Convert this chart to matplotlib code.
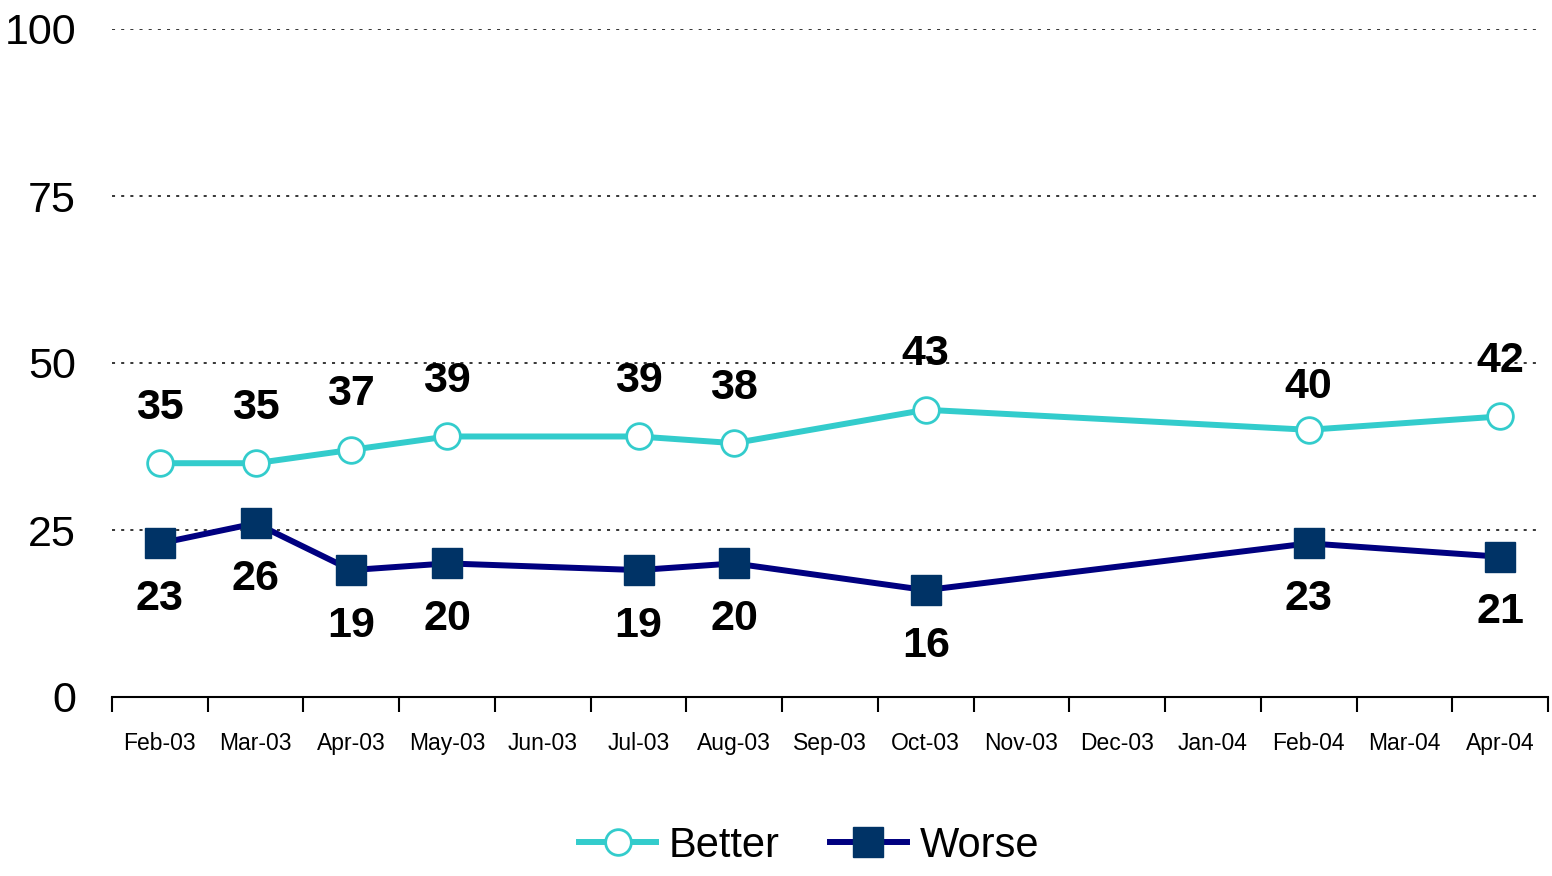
import numpy as np
import matplotlib.pyplot as plt

# --------------------------------------------
# Data
# --------------------------------------------
months = ["Feb-03", "Mar-03", "Apr-03", "May-03", "Jun-03", "Jul-03", "Aug-03",
          "Sep-03", "Oct-03", "Nov-03", "Dec-03", "Jan-04", "Feb-04", "Mar-04", "Apr-04"]
survey_months = ["Feb-03", "Mar-03", "Apr-03", "May-03", "Jul-03", "Aug-03",
                 "Oct-03", "Feb-04", "Apr-04"]
better = [35, 35, 37, 39, 39, 38, 43, 40, 42]
worse = [23, 26, 19, 20, 19, 20, 16, 23, 21]

BETTER_C = "#33CCCC"
WORSE_LINE = "#000080"
WORSE_FILL = "#003366"

plt.rcParams["font.family"] = ["Liberation Sans", "DejaVu Sans"]

fig = plt.figure(figsize=(15.52, 8.76), dpi=100)
ax = fig.add_axes([112 / 1552, 1 - 697 / 876, 1436 / 1552, (697 - 29) / 876])

x = [months.index(m) for m in survey_months]

ax.plot(x, better, color=BETTER_C, lw=4.3, marker="o", ms=18.5,
        mfc="white", mec=BETTER_C, mew=2, label="Better", zorder=3)
ax.plot(x, worse, color=WORSE_LINE, lw=4.3, marker="s", ms=21,
        mfc=WORSE_FILL, mec=WORSE_FILL, label="Worse", zorder=3)

# label offsets (points); Feb-04 "Better" label sits a bit lower
for xi, m, b, w in zip(x, survey_months, better, worse):
    up = 31 if m == "Feb-04" else 40
    ax.annotate(str(b), (xi, b), xytext=(0, up), textcoords="offset points",
                ha="center", va="center", fontsize=31, fontweight="bold")
    ax.annotate(str(w), (xi, w), xytext=(0, -40), textcoords="offset points",
                ha="center", va="center", fontsize=31, fontweight="bold")

# gridlines
for g in [25, 50, 75, 100]:
    ax.plot([-0.5, 14.42], [g, g], color="black", lw=1.1, ls=(0, (2, 4)), zorder=1)

ax.set_xlim(-0.5, 14.5)
ax.set_ylim(0, 100)
ax.set_yticks([0, 25, 50, 75, 100])
ax.tick_params(axis="y", length=0, labelsize=31, pad=26)
ax.set_xticks(range(len(months)))
ax.set_xticklabels(months, fontsize=16.5)
ax.set_xticks(np.arange(-0.5, 15, 1), minor=True)
ax.tick_params(axis="x", which="major", length=0, pad=25)
ax.tick_params(axis="x", which="minor", length=11, width=1.5, direction="out")

for s in ["top", "right", "left"]:
    ax.spines[s].set_visible(False)
ax.spines["bottom"].set_linewidth(1.5)

leg = fig.legend(loc="center", bbox_to_anchor=(809 / 1552, 1 - 846 / 876), ncol=2,
                 frameon=False, prop={"size": 30},
                 handlelength=1.85, columnspacing=1.2, handletextpad=0.3)

fig.savefig("out.png", dpi=100)
